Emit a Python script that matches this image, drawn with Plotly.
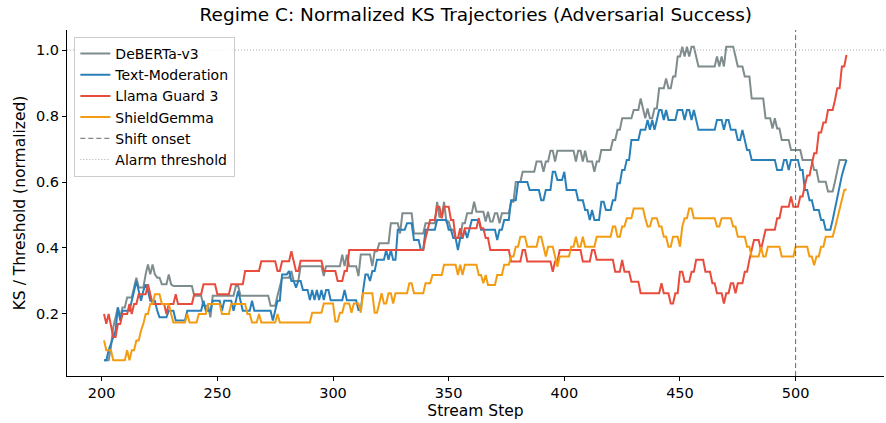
import plotly.graph_objects as go

# Stream steps shown on the chart
STEP_FIRST = 201
STEP_LAST = 522

# Each series: step where a value begins, and the value held from that step on
DEB_STARTS = [201, 204, 205, 206, 207, 208, 209, 211, 214, 215, 216, 219, 220, 221, 222, 223, 224, 226, 229, 230,
              231, 240, 244, 247, 248, 258, 260, 273, 276, 277, 278, 282, 283, 286, 296, 297, 304, 305, 306, 307,
              311, 312, 317, 318, 320, 325, 329, 330, 335, 340, 345, 346, 348, 349, 351, 353, 356, 358, 361, 362,
              366, 367, 368, 370, 372, 373, 377, 379, 382, 388, 391, 392, 394, 396, 397, 405, 406, 408, 409, 410,
              413, 414, 416, 421, 423, 425, 430, 433, 434, 435, 436, 437, 439, 441, 444, 445, 447, 449, 451, 452,
              453, 454, 455, 457, 458, 466, 467, 468, 469, 470, 474, 475, 478, 481, 487, 490, 491, 492, 494, 498,
              503, 508, 510, 514, 517, 518, 519]
DEB_VALS = [0.06, 0.10, 0.16, 0.19, 0.22, 0.19, 0.22, 0.25, 0.28, 0.31, 0.28, 0.32, 0.35, 0.32, 0.35, 0.32, 0.31, 0.29, 0.32, 0.29,
            0.285, 0.255, 0.225, 0.19, 0.255, 0.285, 0.255, 0.225, 0.255, 0.285, 0.31, 0.33, 0.30, 0.345, 0.315, 0.345, 0.38, 0.345, 0.38, 0.345,
            0.315, 0.38, 0.345, 0.39, 0.414, 0.475, 0.444, 0.505, 0.444, 0.475, 0.54, 0.495, 0.54, 0.48, 0.455, 0.43, 0.475, 0.505, 0.54, 0.51,
            0.48, 0.51, 0.48, 0.505, 0.475, 0.505, 0.54, 0.60, 0.631, 0.662, 0.631, 0.662, 0.695, 0.662, 0.695, 0.662, 0.695, 0.662, 0.695, 0.662,
            0.631, 0.662, 0.697, 0.727, 0.758, 0.793, 0.818, 0.853, 0.818, 0.793, 0.823, 0.793, 0.823, 0.884, 0.914, 0.884, 0.92, 0.98, 1.01, 0.98,
            1.01, 0.98, 1.01, 0.98, 0.95, 0.98, 0.95, 0.98, 0.95, 1.01, 0.98, 0.95, 0.92, 0.853, 0.793, 0.762, 0.793, 0.762, 0.727, 0.697,
            0.667, 0.636, 0.601, 0.571, 0.601, 0.636, 0.667]

TM_STARTS = [201, 203, 204, 205, 206, 207, 208, 209, 213, 214, 215, 216, 217, 218, 219, 220, 221, 224, 225, 229,
             232, 237, 244, 245, 248, 252, 253, 257, 258, 259, 260, 261, 265, 266, 274, 275, 276, 278, 281, 282,
             284, 285, 287, 290, 291, 292, 293, 294, 295, 296, 297, 299, 305, 306, 311, 313, 314, 316, 317, 319,
             323, 324, 325, 326, 328, 332, 335, 338, 340, 345, 350, 352, 354, 355, 357, 358, 359, 360, 364, 371,
             372, 374, 377, 380, 385, 390, 392, 395, 397, 400, 401, 406, 409, 411, 412, 413, 416, 418, 421, 423,
             425, 427, 429, 433, 436, 437, 438, 439, 440, 441, 443, 444, 445, 449, 452, 453, 455, 456, 457, 458,
             466, 469, 470, 472, 475, 477, 478, 479, 481, 492, 495, 497, 498, 502, 504, 506, 508, 511, 513, 516,
             517, 518, 519, 520, 521, 522]
TM_VALS = [0.06, 0.09, 0.11, 0.13, 0.15, 0.22, 0.18, 0.21, 0.24, 0.27, 0.30, 0.27, 0.24, 0.27, 0.29, 0.27, 0.24, 0.21, 0.19, 0.21,
           0.18, 0.21, 0.24, 0.21, 0.24, 0.21, 0.24, 0.21, 0.24, 0.27, 0.24, 0.21, 0.24, 0.21, 0.18, 0.21, 0.24, 0.32, 0.33, 0.30,
           0.28, 0.30, 0.273, 0.242, 0.273, 0.242, 0.273, 0.242, 0.273, 0.242, 0.273, 0.242, 0.273, 0.242, 0.212, 0.27, 0.32, 0.30, 0.33, 0.364,
           0.394, 0.364, 0.394, 0.364, 0.455, 0.475, 0.424, 0.394, 0.455, 0.485, 0.455, 0.43, 0.394, 0.43, 0.455, 0.43, 0.455, 0.485, 0.455, 0.424,
           0.455, 0.485, 0.545, 0.60, 0.576, 0.545, 0.576, 0.631, 0.606, 0.631, 0.576, 0.545, 0.515, 0.485, 0.515, 0.485, 0.54, 0.515, 0.545, 0.596,
           0.636, 0.667, 0.727, 0.758, 0.788, 0.758, 0.788, 0.758, 0.788, 0.818, 0.788, 0.818, 0.788, 0.818, 0.788, 0.818, 0.788, 0.818, 0.788, 0.758,
           0.788, 0.758, 0.788, 0.758, 0.727, 0.758, 0.727, 0.697, 0.667, 0.636, 0.667, 0.636, 0.667, 0.636, 0.576, 0.545, 0.515, 0.485, 0.455, 0.485,
           0.52, 0.555, 0.59, 0.62, 0.645, 0.667]

LG_STARTS = [201, 202, 203, 204, 205, 207, 209, 212, 213, 214, 216, 220, 221, 222, 228, 229, 232, 233, 240, 244,
             250, 256, 262, 269, 276, 278, 282, 283, 284, 286, 296, 302, 305, 307, 340, 341, 342, 345, 347, 348,
             351, 353, 355, 356, 357, 363, 364, 366, 368, 377, 382, 384, 395, 396, 398, 408, 412, 414, 422, 425,
             426, 429, 433, 442, 443, 446, 448, 450, 452, 455, 457, 461, 464, 466, 469, 470, 472, 474, 475, 478,
             480, 481, 482, 485, 486, 487, 492, 494, 498, 499, 502, 504, 505, 507, 508, 510, 512, 514, 517, 518,
             520, 522]
LG_VALS = [0.20, 0.17, 0.20, 0.17, 0.13, 0.17, 0.20, 0.23, 0.20, 0.23, 0.26, 0.29, 0.26, 0.23, 0.20, 0.23, 0.26, 0.23, 0.26, 0.29,
           0.26, 0.29, 0.33, 0.36, 0.33, 0.36, 0.39, 0.36, 0.33, 0.361, 0.33, 0.30, 0.33, 0.394, 0.43, 0.46, 0.485, 0.525, 0.49, 0.525,
           0.485, 0.43, 0.46, 0.43, 0.46, 0.49, 0.46, 0.43, 0.394, 0.359, 0.394, 0.359, 0.328, 0.359, 0.394, 0.359, 0.394, 0.364, 0.328, 0.364,
           0.328, 0.298, 0.263, 0.293, 0.263, 0.232, 0.263, 0.328, 0.298, 0.328, 0.364, 0.328, 0.293, 0.263, 0.232, 0.263, 0.293, 0.263, 0.293, 0.328,
           0.364, 0.394, 0.424, 0.394, 0.424, 0.455, 0.49, 0.525, 0.556, 0.525, 0.556, 0.59, 0.62, 0.65, 0.687, 0.75, 0.78, 0.818, 0.848, 0.884,
           0.95, 0.985]

SG_STARTS = [201, 202, 205, 211, 212, 213, 215, 217, 218, 219, 221, 223, 226, 230, 231, 237, 238, 242, 246, 252,
             256, 263, 265, 268, 269, 276, 277, 291, 296, 301, 303, 305, 308, 309, 312, 313, 318, 320, 321, 322,
             324, 326, 327, 333, 335, 340, 343, 348, 354, 355, 356, 357, 363, 365, 366, 367, 371, 374, 377, 379,
             381, 384, 389, 391, 392, 393, 396, 397, 398, 403, 405, 406, 408, 409, 414, 421, 423, 425, 427, 430,
             435, 436, 438, 441, 443, 445, 447, 450, 451, 452, 454, 456, 466, 468, 473, 475, 479, 481, 485, 486,
             488, 494, 500, 506, 508, 509, 511, 513, 517, 518, 519, 520, 521, 522]
SG_VALS = [0.12, 0.09, 0.06, 0.09, 0.06, 0.09, 0.12, 0.15, 0.17, 0.20, 0.23, 0.26, 0.23, 0.20, 0.174, 0.20, 0.174, 0.20, 0.23, 0.20,
           0.23, 0.20, 0.174, 0.20, 0.174, 0.20, 0.174, 0.204, 0.232, 0.177, 0.204, 0.232, 0.204, 0.232, 0.204, 0.263, 0.204, 0.232, 0.263, 0.232,
           0.263, 0.232, 0.263, 0.293, 0.263, 0.293, 0.318, 0.349, 0.318, 0.349, 0.318, 0.349, 0.318, 0.293, 0.318, 0.288, 0.318, 0.349, 0.374, 0.404,
           0.434, 0.404, 0.434, 0.404, 0.374, 0.404, 0.374, 0.343, 0.374, 0.404, 0.434, 0.404, 0.434, 0.404, 0.434, 0.465, 0.434, 0.465, 0.49, 0.52,
           0.49, 0.465, 0.49, 0.465, 0.434, 0.404, 0.434, 0.404, 0.465, 0.49, 0.52, 0.49, 0.465, 0.49, 0.465, 0.434, 0.404, 0.374, 0.404, 0.374,
           0.404, 0.374, 0.404, 0.374, 0.348, 0.374, 0.404, 0.434, 0.46, 0.49, 0.52, 0.545, 0.575, 0.578]

SERIES_NAMES = ["DeBERTa-v3", "Text-Moderation", "Llama Guard 3", "ShieldGemma"]
SERIES_COLORS = ["#7f8c8d", "#2980b9", "#e74c3c", "#f39c12"]

SHIFT_ONSET = 500
ALARM_THRESHOLD = 1.0

X_RANGE = [185.0, 538.2]
Y_RANGE = [0.0121, 1.0606]
X_TICKS = [200, 250, 300, 350, 400, 450, 500]
Y_TICKS = [0.2, 0.4, 0.6, 0.8, 1.0]


def expand(starts, vals, steps):
    out = []
    j = 0
    for s in steps:
        while j + 1 < len(starts) and starts[j + 1] <= s:
            j += 1
        out.append(vals[j])
    return out


steps = list(range(STEP_FIRST, STEP_LAST + 1))
series = [
    expand(DEB_STARTS, DEB_VALS, steps),
    expand(TM_STARTS, TM_VALS, steps),
    expand(LG_STARTS, LG_VALS, steps),
    expand(SG_STARTS, SG_VALS, steps),
]

fig = go.Figure()
for name, color, ys in zip(SERIES_NAMES, SERIES_COLORS, series):
    fig.add_trace(go.Scatter(x=steps, y=ys, mode="lines", name=name,
                             line=dict(color=color, width=2)))

fig.add_trace(go.Scatter(x=[SHIFT_ONSET, SHIFT_ONSET], y=Y_RANGE, mode="lines",
                         name="Shift onset",
                         line=dict(color="#666666", width=1, dash="5px,3px")))
fig.add_trace(go.Scatter(x=X_RANGE, y=[ALARM_THRESHOLD, ALARM_THRESHOLD], mode="lines",
                         name="Alarm threshold",
                         line=dict(color="#aaaaaa", width=1, dash="1px,2px")))

FONT = "DejaVu Sans"
fig.update_layout(
    width=886, height=423,
    margin=dict(l=67, r=2, t=30, b=47),
    paper_bgcolor="white", plot_bgcolor="white",
    font=dict(family=FONT, size=14, color="black"),
    title=dict(text="Regime C: Normalized KS Trajectories (Adversarial Success)",
               x=0.537, xanchor="center", y=0.965, yanchor="middle", yref="container",
               font=dict(size=18.5, color="black")),
    showlegend=True,
    legend=dict(x=0.009, y=0.98, xanchor="left", yanchor="top",
                bgcolor="rgba(255,255,255,0.85)", bordercolor="#cccccc", borderwidth=1,
                font=dict(size=14, color="black"), tracegroupgap=0,
                itemwidth=30),
)
fig.update_xaxes(range=X_RANGE, tickvals=X_TICKS, showgrid=False, zeroline=False,
                 showline=True, linecolor="black", linewidth=1,
                 ticks="outside", ticklen=4, tickcolor="black",
                 tickfont=dict(size=14.5, color="black"),
                 title=dict(text="Stream Step", font=dict(size=15.5, color="black"), standoff=4))
fig.update_yaxes(range=Y_RANGE, tickvals=Y_TICKS, tickformat=".1f", showgrid=False, zeroline=False,
                 showline=True, linecolor="black", linewidth=1,
                 ticks="outside", ticklen=4, tickcolor="black",
                 tickfont=dict(size=14.5, color="black"),
                 title=dict(text="KS / Threshold (normalized)", font=dict(size=15.5, color="black"), standoff=6))

fig.write_html("out.html")
